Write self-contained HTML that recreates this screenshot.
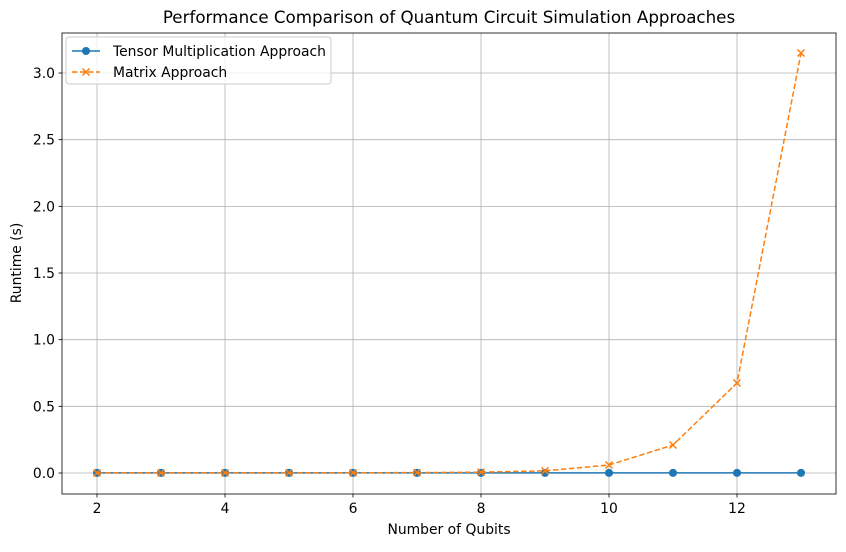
<!DOCTYPE html>
<html><head><meta charset="utf-8"><style>
body{margin:0;background:#fff;font-family:"Liberation Sans","DejaVu Sans",sans-serif;}
svg text{font-family:"DejaVu Sans","Liberation Sans",sans-serif;}
</style></head><body>
<svg id="chart" width="846" height="547" viewBox="0 0 846 547">
<rect width="846" height="547" fill="#fff"/>
<g id="grid"></g>
<g id="series"></g>
<rect x="62" y="33" width="774" height="461" fill="none" stroke="#000" stroke-width="0.8"/>
<g id="ticks"></g>
<text x="449" y="23" text-anchor="middle" font-size="16.7">Performance Comparison of Quantum Circuit Simulation Approaches</text>
<text x="449" y="534" text-anchor="middle" font-size="13.9">Number of Qubits</text>
<text x="21" y="263" text-anchor="middle" font-size="13.9" transform="rotate(-90 21 263)">Runtime (s)</text>
<g>
<rect x="66" y="37" width="265" height="47" rx="3" fill="#fff" fill-opacity="0.8" stroke="#ccc"/>
<g>
<line x1="72" y1="51" x2="100" y2="51" stroke="#1f77b4" stroke-width="1.5"/>
<circle cx="86" cy="51" r="4" fill="#1f77b4"/>
<text x="113" y="56" font-size="13.9">Tensor Multiplication Approach</text></g>
<g>
<line x1="72" y1="72" x2="100" y2="72" stroke="#ff7f0e" stroke-width="1.5" stroke-dasharray="5.5,2.5"/>
<path d="M82.5 68.5L89.5 75.5M89.5 68.5L82.5 75.5" stroke="#ff7f0e" stroke-width="1.5"/>
<text x="113" y="77" font-size="13.9">Matrix Approach</text></g>
</g>
</svg>
<script>
const qubits=[2,3,4,5,6,7,8,9,10,11,12,13];
const tensorRuntime=[0.001,0.001,0.001,0.001,0.001,0.001,0.001,0.001,0.001,0.001,0.001,0.001];
const matrixRuntime=[0.0005,0.0006,0.0008,0.001,0.0015,0.003,0.006,0.016,0.06,0.21,0.675,3.15];
const xTicks=[2,4,6,8,10,12];
const yTicks=[0,0.5,1.0,1.5,2.0,2.5,3.0];
const yTickLabels=["0.0","0.5","1.0","1.5","2.0","2.5","3.0"];
const NS="http://www.w3.org/2000/svg";
const X=v=>97+(v-2)*64;
const Y=v=>473-v*133.33;
function mk(tag,attrs,parent){const e=document.createElementNS(NS,tag);for(const k in attrs)e.setAttribute(k,attrs[k]);parent.appendChild(e);return e;}
const grid=document.getElementById('grid'),ticks=document.getElementById('ticks'),ser=document.getElementById('series');
xTicks.forEach(t=>{const x=X(t);
 const g=mk('line',{x1:x,x2:x,y1:33,y2:494,stroke:'#b0b0b0','stroke-width':0.8},grid);
 
 
 mk('line',{x1:x,x2:x,y1:494,y2:497.5,stroke:'#000','stroke-width':0.8},ticks);
 const tx=mk('text',{x:x,y:513,'text-anchor':'middle','font-size':13.9},ticks);tx.textContent=t;
 
 });
yTicks.forEach((t,i)=>{const y=Y(t);
 const g=mk('line',{x1:62,x2:836,y1:y,y2:y,stroke:'#b0b0b0','stroke-width':0.8},grid);
 
 
 mk('line',{x1:58.5,x2:62,y1:y,y2:y,stroke:'#000','stroke-width':0.8},ticks);
 const tx=mk('text',{x:55,y:y+5,'text-anchor':'end','font-size':13.9},ticks);tx.textContent=yTickLabels[i];
 
 });
const tl=mk('polyline',{points:qubits.map((q,i)=>X(q)+','+Y(tensorRuntime[i])).join(' '),fill:'none',stroke:'#1f77b4','stroke-width':1.5},ser);


qubits.forEach((q,i)=>{const c=mk('circle',{cx:X(q),cy:Y(tensorRuntime[i]),r:4,fill:'#1f77b4'},ser);
 
 });
const ml=mk('polyline',{points:qubits.map((q,i)=>X(q)+','+Y(matrixRuntime[i])).join(' '),fill:'none',stroke:'#ff7f0e','stroke-width':1.5,'stroke-dasharray':'5.5,2.5'},ser);


qubits.forEach((q,i)=>{const x=X(q),y=Y(matrixRuntime[i]);
 const p=mk('path',{d:`M${x-3.5} ${y-3.5}L${x+3.5} ${y+3.5}M${x+3.5} ${y-3.5}L${x-3.5} ${y+3.5}`,stroke:'#ff7f0e','stroke-width':1.5},ser);
 
 });
</script>
</body></html>
